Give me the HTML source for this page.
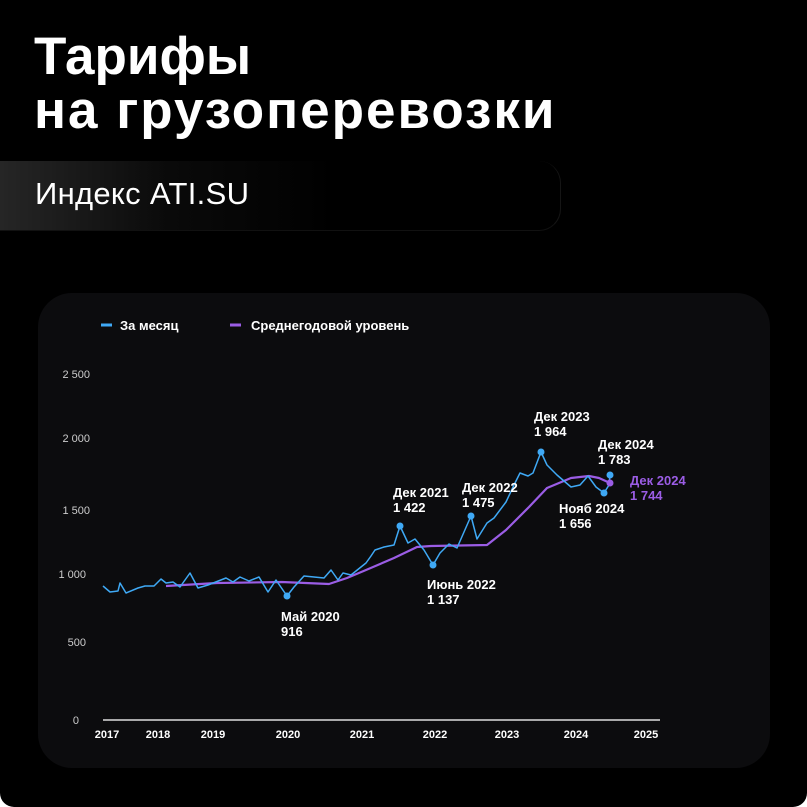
<!DOCTYPE html>
<html><head><meta charset="utf-8"><style>
html,body{margin:0;padding:0;background:#fff;}
.page{position:relative;width:807px;height:807px;background:#000;border-radius:0 0 14px 14px;overflow:hidden;font-family:"Liberation Sans",sans-serif;color:#fff;}
.t1{position:absolute;left:34px;top:30px;font-size:53px;font-weight:bold;line-height:54px;white-space:nowrap;}
.t1 .l2{letter-spacing:2px;}
.band{position:absolute;left:0;top:161px;width:560px;height:69px;background:linear-gradient(90deg,#262626 0%,#0a0a0a 30%,#000 60%);border-radius:0 22px 22px 0;border-right:1px solid #151515;border-bottom:1px solid #111;}
.band span{position:absolute;left:35px;top:15px;font-size:31px;letter-spacing:0.3px;}
.card{position:absolute;left:38px;top:293px;width:732px;height:475px;background:#0c0c0e;border-radius:34px;}
svg{position:absolute;left:0;top:0;}
</style></head><body><div class="page">
<div class="t1">Тарифы<br><span class="l2">на грузоперевозки</span></div>
<div class="band"><span>Индекс ATI.SU</span></div>
<div class="card"></div>
<svg width="807" height="807" font-family="Liberation Sans, sans-serif">
<line x1="101" y1="325" x2="112" y2="325" stroke="#3fa9f5" stroke-width="3"/>
<text x="120" y="330" font-size="13" font-weight="bold" fill="#fff">За месяц</text>
<line x1="230" y1="325" x2="241" y2="325" stroke="#9b5de5" stroke-width="3"/>
<text x="251" y="330" font-size="13" font-weight="bold" fill="#fff">Среднегодовой уровень</text>
<g font-size="11" fill="#ccc" text-anchor="end">
<text x="90" y="378">2 500</text><text x="90" y="442">2 000</text><text x="90" y="514">1 500</text>
<text x="86" y="578">1 000</text><text x="86" y="646">500</text><text x="79" y="724">0</text>
</g>
<line x1="103" y1="720" x2="660" y2="720" stroke="#ddd" stroke-width="1.5"/>
<g font-size="11" font-weight="bold" fill="#fff" text-anchor="middle">
<text x="107" y="738">2017</text><text x="158" y="738">2018</text><text x="213" y="738">2019</text><text x="288" y="738">2020</text><text x="362" y="738">2021</text><text x="435" y="738">2022</text><text x="507" y="738">2023</text><text x="576" y="738">2024</text><text x="646" y="738">2025</text>
</g>
<polyline fill="none" stroke="#9b5de5" stroke-width="2.2" stroke-linejoin="round" points="166,586 217,583 282,582 329,584 347,578 366,570 394,558 417,547 431,546 487,545 506,530 529,507 547,488 571,478 589,476 599,478 610,483"/>
<polyline fill="none" stroke="#3fa9f5" stroke-width="1.5" stroke-linejoin="round" points="103,586 110,592 118,591 120,583 126,593 138,588 145,586 154,586 161,579 166,583 173,582 180,587 190,573 198,588 208,585 226,578 233,582 240,577 249,581 259,577 268,592 276,580 287,596 294,587 304,576 324,578 331,570 338,580 343,573 351,575 366,563 371,556 375,550 384,547 394,545 400,526 408,543 415,539 424,550 433,565 440,553 449,544 457,548 471,516 477,539 487,523 494,518 506,502 514,485 520,473 528,476 533,473 541,452 547,465 557,475 571,487 580,485 588,476 596,487 604,493 609,485 610,475"/>
<g fill="#3fa9f5">
<circle cx="287" cy="596" r="3.5"/><circle cx="400" cy="526" r="3.5"/><circle cx="433" cy="565" r="3.5"/><circle cx="471" cy="516" r="3.5"/><circle cx="541" cy="452" r="3.5"/><circle cx="604" cy="493" r="3.5"/><circle cx="610" cy="475" r="3.5"/>
</g>
<circle cx="610" cy="483" r="3.5" fill="#9b5de5"/>
<g font-size="13" font-weight="bold" fill="#fff">
<text x="281" y="621">Май 2020</text><text x="281" y="636">916</text>
<text x="393" y="497">Дек 2021</text><text x="393" y="512">1 422</text>
<text x="427" y="589">Июнь 2022</text><text x="427" y="604">1 137</text>
<text x="462" y="492">Дек 2022</text><text x="462" y="507">1 475</text>
<text x="534" y="421">Дек 2023</text><text x="534" y="436">1 964</text>
<text x="598" y="449">Дек 2024</text><text x="598" y="464">1 783</text>
<text x="559" y="513">Нояб 2024</text><text x="559" y="528">1 656</text>
</g>
<g font-size="13" font-weight="bold" fill="#9b5de5">
<text x="630" y="485">Дек 2024</text><text x="630" y="500">1 744</text>
</g>
</svg>
</div></body></html>
